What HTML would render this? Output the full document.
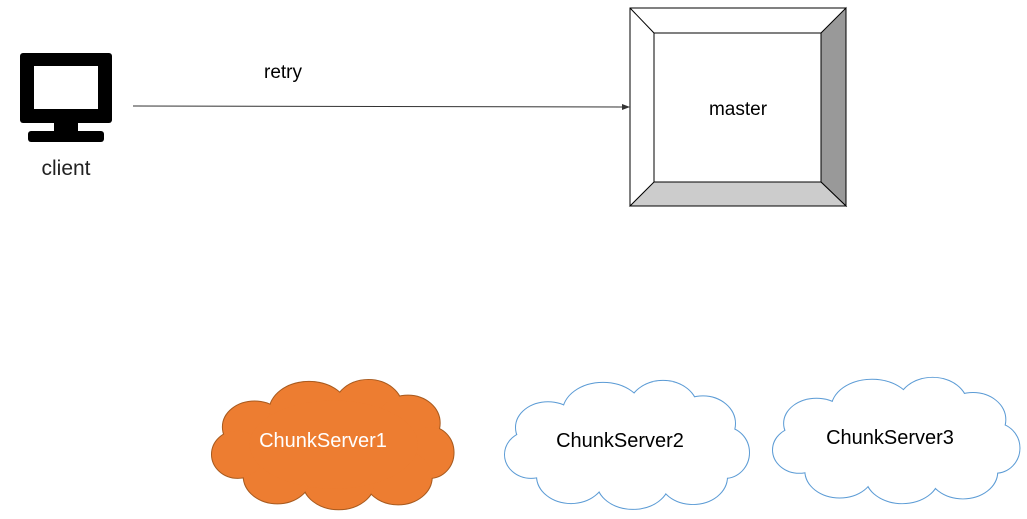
<!DOCTYPE html>
<html><head><meta charset="utf-8"><style>
html,body{margin:0;padding:0;background:#fff;}
svg{display:block;}
text{font-family:"Liberation Sans",sans-serif;}
</style></head><body>
<svg width="1027" height="519" viewBox="0 0 1027 519" xmlns="http://www.w3.org/2000/svg">
<defs>
<g id="co">
<ellipse cx="45" cy="52" rx="32" ry="26"/><ellipse cx="100" cy="36" rx="40" ry="30"/><ellipse cx="160" cy="32" rx="34" ry="28"/><ellipse cx="200" cy="48" rx="32" ry="28"/><ellipse cx="222" cy="78" rx="24" ry="26"/><ellipse cx="190" cy="103" rx="34" ry="28"/><ellipse cx="130" cy="108" rx="36" ry="28"/><ellipse cx="68" cy="102" rx="34" ry="28"/><ellipse cx="28" cy="80" rx="26" ry="24"/>
</g>
<g id="cf">
<use href="#co"/><ellipse cx="125" cy="70" rx="85" ry="45"/>
</g>
</defs>
<!-- client icon -->
<rect x="20" y="53" width="92" height="70" rx="3" fill="#000"/>
<rect x="34" y="66" width="64" height="43" fill="#fff"/>
<rect x="54" y="122" width="24" height="10" fill="#000"/>
<rect x="28" y="131" width="76" height="11" rx="3" fill="#000"/>
<text x="66" y="175" font-size="21" text-anchor="middle" fill="#222">client</text>
<!-- arrow -->
<line x1="133" y1="106" x2="624" y2="107" stroke="#333" stroke-width="1"/>
<polygon points="630,107 622,104 622,110" fill="#333"/>
<text x="283" y="78" font-size="19" text-anchor="middle" fill="#000">retry</text>
<!-- master -->
<rect x="630" y="8" width="216" height="198" fill="#fff" stroke="#000"/>
<polygon points="821,33 846,8 846,206 821,182" fill="#999" stroke="#000"/>
<polygon points="654,182 821,182 846,206 630,206" fill="#ccc" stroke="#000"/>
<line x1="630" y1="8" x2="654" y2="33" stroke="#000"/>
<rect x="654" y="33" width="167" height="149" fill="#fff" stroke="#000"/>
<text x="738" y="115" font-size="19" text-anchor="middle" fill="#000">master</text>
<!-- cloud 1 -->
<g transform="translate(210,376) scale(0.99,0.98)">
<use href="#co" fill="none" stroke="#a85a1e" stroke-width="2"/>
<use href="#cf" fill="#ed7d31"/>
</g>
<text x="323" y="447" font-size="20" text-anchor="middle" fill="#fff">ChunkServer1</text>
<!-- cloud 2 -->
<g transform="translate(503,377) scale(1.0,0.97)">
<use href="#co" fill="none" stroke="#5b9bd5" stroke-width="2"/>
<use href="#cf" fill="#fff"/>
</g>
<text x="620" y="447" font-size="20" text-anchor="middle" fill="#000">ChunkServer2</text>
<!-- cloud 3 -->
<g transform="translate(771,374) scale(1.01,0.95)">
<use href="#co" fill="none" stroke="#5b9bd5" stroke-width="2"/>
<use href="#cf" fill="#fff"/>
</g>
<text x="890" y="444" font-size="20" text-anchor="middle" fill="#000">ChunkServer3</text>
</svg>
</body></html>
